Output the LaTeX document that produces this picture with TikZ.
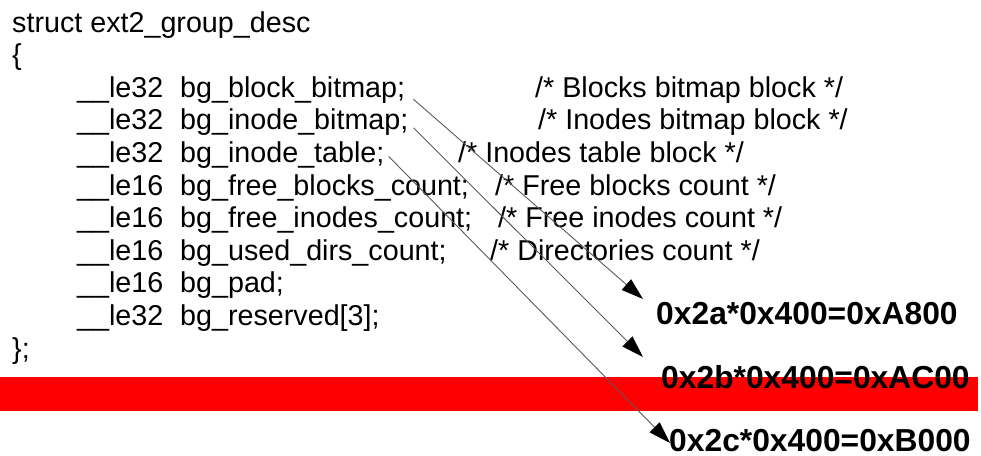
\documentclass[tikz,border=0pt]{standalone}
\usepackage{fontspec}
\setmainfont{Liberation Sans}
\usetikzlibrary{arrows.meta,calc}
\begin{document}
\begin{tikzpicture}[x=1pt,y=-1pt,
  code/.style={anchor=base west,inner sep=0pt,font=\fontsize{28.7}{33}\selectfont},
  val/.style={anchor=base west,inner sep=0pt,font=\fontsize{31.8}{36}\selectfont\bfseries},
  ptr/.style={draw=black!65,line width=0.9pt,
    -{Triangle[length=22pt,width=14pt,color=black,fill=black]}}]
\useasboundingbox (0,0) rectangle (981,455);

% red highlight band behind the second address
\fill[red] (0,377) rectangle (978,411);

% structure declaration
\node[code] (hdr)  at (12,32)    {struct ext2\_group\_desc};
\node[code] (open) at (12,64.6)  {\{};

\node[code] (t1) at (77,97.2)  {\_\_le32};
\node[code] (t2) at (77,129.8) {\_\_le32};
\node[code] (t3) at (77,162.4) {\_\_le32};
\node[code] (t4) at (77,195.0) {\_\_le16};
\node[code] (t5) at (77,227.6) {\_\_le16};
\node[code] (t6) at (77,260.2) {\_\_le16};
\node[code] (t7) at (77,292.8) {\_\_le16};
\node[code] (t8) at (77,325.4) {\_\_le32};

\node[code] (n1) at (180,97.2)  {bg\_block\_bitmap;};
\node[code] (n2) at (180,129.8) {bg\_inode\_bitmap;};
\node[code] (n3) at (180,162.4) {bg\_inode\_table;};
\node[code] (n4) at (180,195.0) {bg\_free\_blocks\_count;};
\node[code] (n5) at (180,227.6) {bg\_free\_inodes\_count;};
\node[code] (n6) at (180,260.2) {bg\_used\_dirs\_count;};
\node[code] (n7) at (180,292.8) {bg\_pad;};
\node[code] (n8) at (180,325.4) {bg\_reserved[3];};

\node[code] (close) at (12,358) {\};};

% field comments
\node[code] (c1) at (535,97.2)  {/* Blocks bitmap block */};
\node[code] (c2) at (538,129.8) {/* Inodes bitmap block */};
\node[code] (c3) at (458,162.4) {/* Inodes table block */};
\node[code] (c4) at (495,195.0) {/* Free blocks count */};
\node[code] (c5) at (498,227.6) {/* Free inodes count */};
\node[code] (c6) at (490,260.2) {/* Directories count */};

% computed byte offsets
\node[val] (v1) at (656,324) {0x2a*0x400=0xA800};
\node[val] (v2) at (661,388) {0x2b*0x400=0xAC00};
\node[val] (v3) at (669,451) {0x2c*0x400=0xB000};

% pointers from the fields to their offsets
\coordinate (s1) at ($(n1.base east)+(8,2)$);
\coordinate (s2) at ($(n2.base east)+(5,-2)$);
\coordinate (s3) at ($(n3.base east)+(4,-6)$);
\coordinate (e1) at ($(v1.base west)+(-13,-25)$);
\coordinate (e2) at ($(v2.base west)+(-18,-31)$);
\coordinate (e3) at ($(v3.base west)+(1,-8)$);

\draw[ptr] (s1) -- (e1);
\draw[ptr] (s2) -- (e2);
\draw[ptr] (s3) -- (e3);
\end{tikzpicture}
\end{document}
